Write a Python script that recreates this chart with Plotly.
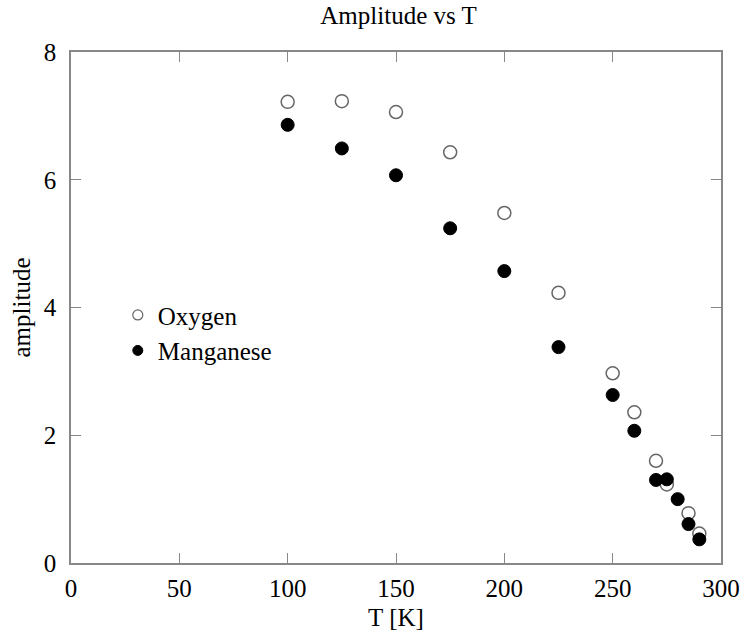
import plotly.graph_objects as go

T_oxygen = [100, 125, 150, 175, 200, 225, 250, 260, 270, 275, 285, 290]
amp_oxygen = [7.22, 7.23, 7.06, 6.43, 5.48, 4.23, 2.97, 2.36, 1.60, 1.23, 0.78, 0.46]

T_mn = [100, 125, 150, 175, 200, 225, 250, 260, 270, 275, 280, 285, 290]
amp_mn = [6.86, 6.49, 6.07, 5.24, 4.57, 3.38, 2.63, 2.07, 1.30, 1.31, 1.00, 0.61, 0.37]

x_ticks = [0, 50, 100, 150, 200, 250, 300]
y_ticks = [0, 2, 4, 6, 8]

FONT = "Liberation Serif"
FS = 25

oxy_marker = dict(symbol="circle", size=13, color="white",
                  line=dict(color="#666666", width=1.5))
mn_marker = dict(symbol="circle", size=13, color="black",
                 line=dict(color="black", width=1))

fig = go.Figure()
fig.add_trace(go.Scatter(x=T_oxygen, y=amp_oxygen, mode="markers",
                         name="Oxygen", marker=oxy_marker, showlegend=False))
fig.add_trace(go.Scatter(x=T_mn, y=amp_mn, mode="markers",
                         name="Manganese", marker=mn_marker, showlegend=False))
# legend entries with smaller symbols
fig.add_trace(go.Scatter(x=[None], y=[None], mode="markers", name="Oxygen",
                         marker=dict(oxy_marker, size=10, line=dict(color="#666666", width=1.2))))
fig.add_trace(go.Scatter(x=[None], y=[None], mode="markers", name="Manganese",
                         marker=dict(mn_marker, size=10)))

axis_common = dict(
    showgrid=False, zeroline=False, showline=True, linecolor="#888888",
    linewidth=1.5, mirror="ticks", ticks="inside", ticklen=10,
    tickcolor="#888888", tickwidth=1,
    tickfont=dict(family=FONT, size=FS, color="black"),
)

fig.update_layout(
    width=752, height=641,
    margin=dict(l=71, r=26, t=52, b=78),
    paper_bgcolor="white", plot_bgcolor="white",
    title=dict(text="Amplitude vs T", x=0.53, xanchor="center", y=0.99,
               yanchor="top", font=dict(family=FONT, size=FS, color="black")),
    xaxis=dict(range=[0, 300], tickvals=x_ticks, ticklabelstandoff=2,
               title=dict(text="T [K]", standoff=8,
                          font=dict(family=FONT, size=FS, color="black")),
               **axis_common),
    yaxis=dict(range=[0, 8], tickvals=y_ticks, ticklabelstandoff=8,
               title=dict(text="amplitude", standoff=6,
                          font=dict(family=FONT, size=FS, color="black")),
               **axis_common),
    legend=dict(x=0.072, y=0.53, xanchor="left", yanchor="top",
                bgcolor="rgba(0,0,0,0)", tracegroupgap=0,
                font=dict(family=FONT, size=FS, color="black")),
    showlegend=True,
)

fig.write_html("out.html")
